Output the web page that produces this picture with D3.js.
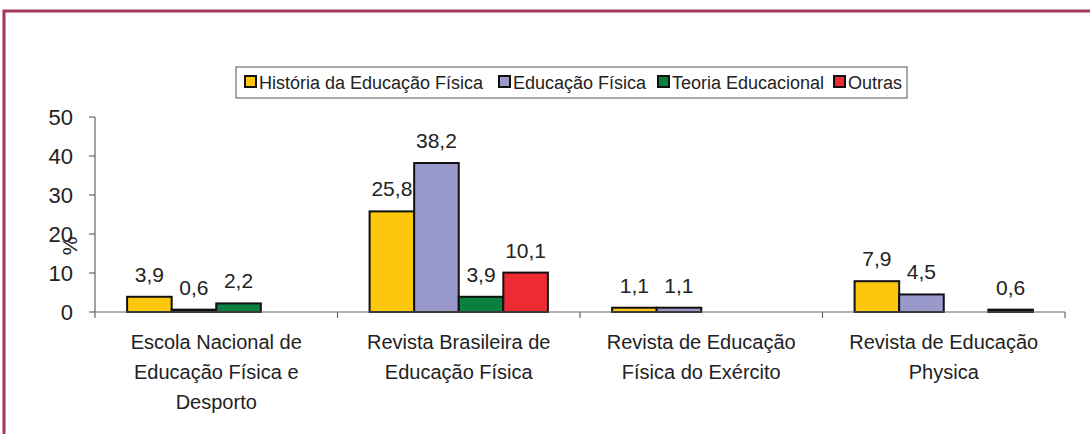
<!DOCTYPE html>
<html>
<head>
<meta charset="utf-8">
<script src="https://cdn.jsdelivr.net/npm/d3@7"></script>
<style>
  body { margin: 0; background: #fff; }
  svg text { font-family: "Liberation Sans", Arial, sans-serif; fill: #222; }
</style>
</head>
<body>
<div id="chart"></div>
<script>
// chart values
const categories = [
  ["Escola Nacional de", "Educação Física e", "Desporto"],
  ["Revista Brasileira de", "Educação Física"],
  ["Revista de Educação", "Física do Exército"],
  ["Revista de Educação", "Physica"]
];
const seriesNames = ["História da Educação Física", "Educação Física", "Teoria Educacional", "Outras"];
const historia = [3.9, 25.8, 1.1, 7.9];
const educacao = [0.6, 38.2, 1.1, 4.5];
const teoria = [2.2, 3.9, null, null];
const outras = [null, 10.1, null, 0.6];
const yTicks = [0, 10, 20, 30, 40, 50];
const colors = ["#fdc70c", "#9999cc", "#0b7f40", "#ee2b33"];

const WIDTH = 1090, HEIGHT = 434;
const allSeries = [historia, educacao, teoria, outras];

const svg = d3.select("#chart").append("svg")
  .attr("width", WIDTH)
  .attr("height", HEIGHT);

// maroon frame
svg.append("path")
  .attr("d", "M4,434 V11 H1090")
  .attr("fill", "none")
  .attr("stroke", "#a5375d")
  .attr("stroke-width", 3);

const x0 = d3.scaleBand().domain(d3.range(categories.length)).range([95, 1065]);
const x1 = d3.scaleBand().domain(d3.range(seriesNames.length))
  .range([0, x0.bandwidth()]).paddingOuter(0.72);
const y = d3.scaleLinear().domain([0, 50]).range([312, 117]);

// y axis
svg.append("line")
  .attr("x1", 95).attr("x2", 95).attr("y1", y(50)).attr("y2", y(0))
  .attr("stroke", "#666").attr("stroke-width", 1.2);
svg.selectAll(".ytick").data(yTicks).join("line")
  .attr("x1", 89).attr("x2", 95)
  .attr("y1", d => y(d)).attr("y2", d => y(d))
  .attr("stroke", "#666").attr("stroke-width", 1.2);
svg.selectAll(".ylab").data(yTicks).join("text")
  .attr("x", 73).attr("y", d => y(d) + 8)
  .attr("text-anchor", "end")
  .style("font-size", "22px")
  .text(d => d);
svg.append("text")
  .attr("transform", `translate(77,${y(20) + 12}) rotate(-90)`)
  .attr("text-anchor", "middle")
  .style("font-size", "21px")
  .text("%");

// bars
const groups = svg.selectAll(".grp").data(categories).join("g")
  .attr("transform", (d, i) => `translate(${x0(i)},0)`);

groups.each(function (c, ci) {
  const vals = allSeries.map((s, si) => ({ si, v: s[ci] })).filter(d => d.v != null);
  const g = d3.select(this);
  g.selectAll("rect").data(vals).join("rect")
    .attr("x", d => x1(d.si))
    .attr("y", d => y(d.v))
    .attr("width", x1.bandwidth())
    .attr("height", d => y(0) - y(d.v))
    .attr("fill", d => d.v < 1 ? "#111" : colors[d.si])
    .attr("stroke", "#111")
    .attr("stroke-width", 2);
  g.selectAll(".val").data(vals).join("text")
    .attr("x", d => x1(d.si) + x1.bandwidth() / 2)
    .attr("y", d => y(d.v) - 15)
    .attr("text-anchor", "middle")
    .style("font-size", "21px")
    .text(d => String(d.v).replace(".", ","));
  g.selectAll(".cat").data(c).join("text")
    .attr("x", x0.bandwidth() / 2)
    .attr("y", (d, i) => 349 + i * 30)
    .attr("text-anchor", "middle")
    .style("font-size", "20px")
    .text(d => d);
});

// x axis
svg.append("line")
  .attr("x1", 95).attr("x2", 1065).attr("y1", y(0)).attr("y2", y(0))
  .attr("stroke", "#666").attr("stroke-width", 1.2);
svg.selectAll(".xtick").data(d3.range(categories.length + 1)).join("line")
  .attr("x1", d => 95 + d * x0.bandwidth()).attr("x2", d => 95 + d * x0.bandwidth())
  .attr("y1", y(0)).attr("y2", y(0) + 6)
  .attr("stroke", "#666").attr("stroke-width", 1.2);

// legend
const legend = svg.append("g");
legend.append("rect")
  .attr("x", 236).attr("y", 67).attr("width", 671).attr("height", 31)
  .attr("fill", "#fff").attr("stroke", "#555").attr("stroke-width", 1);
const legendX = [245, 499, 658, 834];
const items = legend.selectAll(".item").data(seriesNames).join("g")
  .attr("transform", (d, i) => `translate(${legendX[i]},82)`);
items.append("rect")
  .attr("x", 0).attr("y", -6).attr("width", 11).attr("height", 11)
  .attr("fill", (d, i) => colors[i])
  .attr("stroke", "#111").attr("stroke-width", 2);
items.append("text")
  .attr("x", 14).attr("y", 7)
  .style("font-size", "18px")
  .text(d => d);
</script>
</body>
</html>
